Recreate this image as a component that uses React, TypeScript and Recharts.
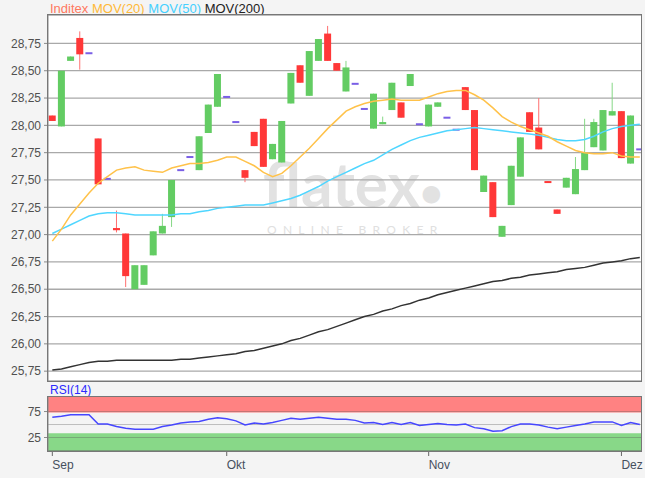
import React from 'react';
import { ComposedChart, Bar, Line, XAxis, YAxis, CartesianGrid, ReferenceArea, ReferenceLine } from 'recharts';

// daily candles, Sep - Dez (index = trading day)
const opens = [28.09, 27.99, 28.59, 28.80, 28.66, 27.88, 27.51, 27.06, 27.01, 26.50, 26.54, 26.81, 27.01, 27.16, 27.59, 27.71, 27.59, 27.93, 28.17, 28.26, 28.03, 27.59, 27.94, 28.06, 27.69, 27.66, 28.20, 28.55, 28.27, 28.59, 28.84, 28.57, 28.31, 28.38, 28.15, 27.97, 28.01, 28.14, 28.21, 28.36, 28.01, 27.99, 28.17, 28.07, 27.96, 28.35, 28.14, 27.39, 27.48, 26.98, 27.27, 27.53, 28.12, 27.98, 27.49, 27.23, 27.43, 27.37, 27.59, 27.80, 27.77, 28.09, 28.13, 27.65, 27.78];
const highs = [28.09, 28.50, 28.63, 28.86, 28.66, 27.88, 27.51, 27.22, 27.01, 26.72, 26.72, 27.03, 27.19, 27.50, 27.59, 27.71, 27.90, 28.19, 28.47, 28.26, 28.03, 27.59, 27.94, 28.06, 27.83, 28.04, 28.48, 28.55, 28.68, 28.79, 28.91, 28.57, 28.59, 28.38, 28.15, 28.29, 28.08, 28.39, 28.21, 28.47, 28.01, 28.19, 28.21, 28.07, 27.96, 28.35, 28.14, 27.54, 27.48, 27.08, 27.63, 27.89, 28.12, 28.25, 27.49, 27.23, 27.52, 27.71, 28.06, 28.06, 28.14, 28.39, 28.13, 28.09, 27.78];
const lows = [28.04, 27.99, 28.59, 28.51, 28.66, 27.46, 27.51, 27.02, 26.52, 26.50, 26.54, 26.81, 27.01, 27.07, 27.59, 27.71, 27.59, 27.93, 28.17, 28.26, 28.03, 27.48, 27.81, 27.62, 27.69, 27.66, 28.20, 28.39, 28.27, 28.59, 28.59, 28.50, 28.31, 28.38, 28.15, 27.97, 28.01, 28.14, 28.07, 28.36, 28.01, 27.99, 28.17, 28.07, 27.96, 28.14, 27.59, 27.39, 27.16, 26.98, 27.27, 27.53, 27.94, 27.78, 27.48, 27.19, 27.43, 27.37, 27.59, 27.80, 27.77, 28.09, 27.70, 27.65, 27.78];
const closes = [28.04, 28.50, 28.63, 28.65, 28.66, 27.46, 27.51, 27.04, 26.62, 26.72, 26.72, 27.03, 27.08, 27.50, 27.59, 27.71, 27.90, 28.19, 28.47, 28.26, 28.03, 27.52, 27.81, 27.62, 27.83, 28.04, 28.48, 28.39, 28.68, 28.79, 28.59, 28.50, 28.53, 28.38, 28.15, 28.29, 28.03, 28.39, 28.07, 28.47, 28.01, 28.19, 28.21, 28.07, 27.96, 28.14, 27.59, 27.54, 27.16, 27.08, 27.63, 27.89, 27.94, 27.78, 27.48, 27.19, 27.52, 27.60, 27.75, 28.03, 28.14, 28.13, 27.70, 28.09, 27.78];

const mov20 = [26.94, 27.05, 27.18, 27.28, 27.38, 27.47, 27.53, 27.59, 27.61, 27.62, 27.59, 27.58, 27.57, 27.61, 27.63, 27.65, 27.65, 27.66, 27.68, 27.71, 27.71, 27.67, 27.63, 27.57, 27.53, 27.56, 27.63, 27.71, 27.79, 27.88, 27.97, 28.05, 28.13, 28.17, 28.20, 28.22, 28.23, 28.24, 28.23, 28.23, 28.23, 28.26, 28.29, 28.31, 28.32, 28.32, 28.28, 28.23, 28.16, 28.08, 28.03, 27.99, 27.96, 27.93, 27.90, 27.85, 27.81, 27.77, 27.75, 27.74, 27.74, 27.75, 27.72, 27.71, 27.71];
const mov50 = [27.01, 27.05, 27.09, 27.13, 27.17, 27.19, 27.20, 27.20, 27.19, 27.18, 27.18, 27.18, 27.18, 27.18, 27.19, 27.19, 27.21, 27.22, 27.24, 27.25, 27.26, 27.27, 27.27, 27.27, 27.29, 27.31, 27.33, 27.36, 27.40, 27.44, 27.49, 27.53, 27.57, 27.61, 27.65, 27.68, 27.73, 27.78, 27.82, 27.86, 27.89, 27.91, 27.93, 27.95, 27.96, 27.97, 27.98, 27.97, 27.96, 27.95, 27.94, 27.93, 27.92, 27.91, 27.89, 27.87, 27.86, 27.86, 27.87, 27.90, 27.94, 27.97, 27.99, 28.00, 28.01];
const mov200 = [25.76, 25.77, 25.79, 25.81, 25.83, 25.84, 25.84, 25.85, 25.85, 25.85, 25.85, 25.85, 25.85, 25.85, 25.86, 25.86, 25.87, 25.88, 25.89, 25.90, 25.91, 25.93, 25.94, 25.96, 25.98, 26.00, 26.03, 26.05, 26.08, 26.11, 26.13, 26.16, 26.19, 26.22, 26.25, 26.27, 26.30, 26.32, 26.35, 26.37, 26.40, 26.42, 26.45, 26.47, 26.49, 26.51, 26.53, 26.55, 26.57, 26.58, 26.60, 26.61, 26.63, 26.64, 26.65, 26.66, 26.68, 26.69, 26.70, 26.72, 26.74, 26.75, 26.76, 26.78, 26.79];
const rsi14 = [64, 66, 69, 69, 69, 51, 51, 46, 43, 41, 41, 41, 46, 49, 53, 55, 56, 60, 63, 61, 57, 49, 53, 51, 54, 58, 62, 60, 62, 64, 62, 60, 60, 58, 53, 54, 50, 54, 50, 54, 48, 50, 52, 50, 49, 51, 44, 42, 37, 38, 46, 51, 51, 49, 45, 42, 45, 48, 51, 55, 55, 55, 48, 54, 50];

const monthTicks = [0, 19, 41, 62];
const monthLabels = ['Sep', 'Okt', 'Nov', 'Dez'];
const priceTicks = [25.75, 26, 26.25, 26.5, 26.75, 27, 27.25, 27.5, 27.75, 28, 28.25, 28.5, 28.75];
const rsiTicks = [25, 75];

const X_DOMAIN: [number, number] = [-0.47, 64.13];
const FONT = '"Liberation Sans", Arial, sans-serif';
const GREEN = '#63cc63';
const RED = '#ff3838';
const FLAT = '#7a5fe6';

const data = opens.map((o, i) => ({
  i,
  o,
  h: highs[i],
  l: lows[i],
  c: closes[i],
  ma20: mov20[i],
  ma50: mov50[i],
  ma200: mov200[i],
  rsi: rsi14[i],
}));

function Candle(props: any) {
  const { x, y, width, height, payload } = props;
  if (x == null || y == null || !payload) return null;
  const { o, h, l, c } = payload;
  const cx = x + width / 2;
  const range = h - l;
  const py = (p: number) => (range > 0 ? y + ((h - p) / range) * height : y);
  if (o === c && h === l) {
    return <rect x={cx - 3.5} y={y - 1} width={7} height={2} fill={FLAT} />;
  }
  const up = c >= o;
  const col = up ? GREEN : RED;
  const top = Math.min(py(o), py(c));
  const bh = Math.max(Math.abs(py(o) - py(c)), 2);
  return (
    <g>
      <line x1={cx} x2={cx} y1={py(h)} y2={py(l)} stroke={up ? '#86d886' : '#ff7070'} strokeWidth={1} />
      <rect x={cx - 3.5} y={top} width={7} height={bh} fill={col} />
    </g>
  );
}

function MonthTick(props: any) {
  const { x, y, payload } = props;
  const k = monthTicks.indexOf(payload.value);
  return (
    <text x={x} y={y + 11} textAnchor="start" fill="#46505e" fontSize={12} fontFamily={FONT}>
      {monthLabels[k]}
    </text>
  );
}

const fmt = (v: number) => v.toFixed(2).replace('.', ',');

export default function App() {
  return (
    <div style={{ position: 'absolute', left: 0, top: 0, width: 645, height: 478, background: '#f4f4f4', fontFamily: FONT }}>
      <div style={{ position: 'absolute', left: 50, top: 1, fontSize: 13, whiteSpace: 'nowrap' }}>
        <span style={{ color: '#ff7860' }}>Inditex</span>{' '}
        <span style={{ color: '#ffb938' }}>MOV(20)</span>{' '}
        <span style={{ color: '#45d0ff' }}>MOV(50)</span>{' '}
        <span style={{ color: '#222' }}>MOV(200)</span>
      </div>
      <div style={{ position: 'absolute', left: 48, top: 15, width: 593, height: 366, background: '#fff' }} />
      <div style={{ position: 'absolute', left: 263, top: 158, height: 50, lineHeight: '50px', fontSize: 62, fontWeight: 700, fontFamily: 'Lato, "Open Sans", sans-serif', color: '#e2e2e2', whiteSpace: 'nowrap' }}>
        flatex<span style={{ fontSize: 40 }}>•</span>
      </div>
      <div style={{ position: 'absolute', left: 267, top: 223, fontSize: 12, lineHeight: '14px', fontFamily: 'Lato, sans-serif', color: '#e0e0e0', letterSpacing: 6.3 }}>
        ONLINE BROKER
      </div>

      <div style={{ position: 'absolute', left: 0, top: 0 }}>
        <ComposedChart width={645} height={382} data={data} margin={{ top: 15, right: 4, bottom: 1, left: 0 }}>
          <CartesianGrid vertical={false} stroke="#a9a9a9" strokeWidth={1.3} />
          <XAxis dataKey="i" type="number" domain={X_DOMAIN} hide allowDataOverflow />
          <YAxis
            domain={[25.66, 29.01]}
            ticks={priceTicks}
            tickFormatter={fmt}
            width={48}
            allowDataOverflow
            tickSize={4}
            tickMargin={3}
            stroke="#8a8a8a"
            tick={{ fill: '#505050', fontSize: 12, fontFamily: FONT }}
          />
          <Line dataKey="ma200" stroke="#333" strokeWidth={1.5} dot={false} isAnimationActive={false} />
          <Line dataKey="ma50" stroke="#4fd6ff" strokeWidth={1.5} dot={false} isAnimationActive={false} />
          <Line dataKey="ma20" stroke="#ffc24a" strokeWidth={1.5} dot={false} isAnimationActive={false} />
          <Bar dataKey={(d: any) => [d.l, d.h]} barSize={7} shape={<Candle />} isAnimationActive={false} />
        </ComposedChart>
      </div>
      <div style={{ position: 'absolute', left: 47, top: 14, width: 593, height: 366, border: '1px solid #777', pointerEvents: 'none' }} />

      <div style={{ position: 'absolute', left: 50, top: 383, fontSize: 12, color: '#2a2aff' }}>RSI(14)</div>
      <div style={{ position: 'absolute', left: 0, top: 383 }}>
        <ComposedChart width={645} height={95} data={data} margin={{ top: 14, right: 4, bottom: 0, left: 0 }}>
          <ReferenceArea y1={73} y2={103} fill="#ff8282" fillOpacity={1} stroke="none" />
          <ReferenceArea y1={-1} y2={33} fill="#88d888" fillOpacity={1} stroke="none" />
          <ReferenceLine y={75} stroke="#555" strokeOpacity={0.35} />
          <ReferenceLine y={50} stroke="#555" strokeOpacity={0.35} />
          <ReferenceLine y={25} stroke="#555" strokeOpacity={0.35} />
          <XAxis
            dataKey="i"
            type="number"
            domain={X_DOMAIN}
            ticks={monthTicks}
            tick={<MonthTick />}
            tickSize={5}
            height={27}
            stroke="#666"
            allowDataOverflow
          />
          <YAxis
            domain={[-1, 103]}
            ticks={rsiTicks}
            width={48}
            tickSize={4}
            tickMargin={3}
            stroke="#8a8a8a"
            allowDataOverflow
            tick={{ fill: '#505050', fontSize: 12, fontFamily: FONT }}
          />
          <Line dataKey="rsi" stroke="#4646ff" strokeWidth={1.5} dot={false} isAnimationActive={false} />
        </ComposedChart>
      </div>
      <div style={{ position: 'absolute', left: 47, top: 396, width: 593, height: 54, border: '1px solid #777', pointerEvents: 'none' }} />
    </div>
  );
}
